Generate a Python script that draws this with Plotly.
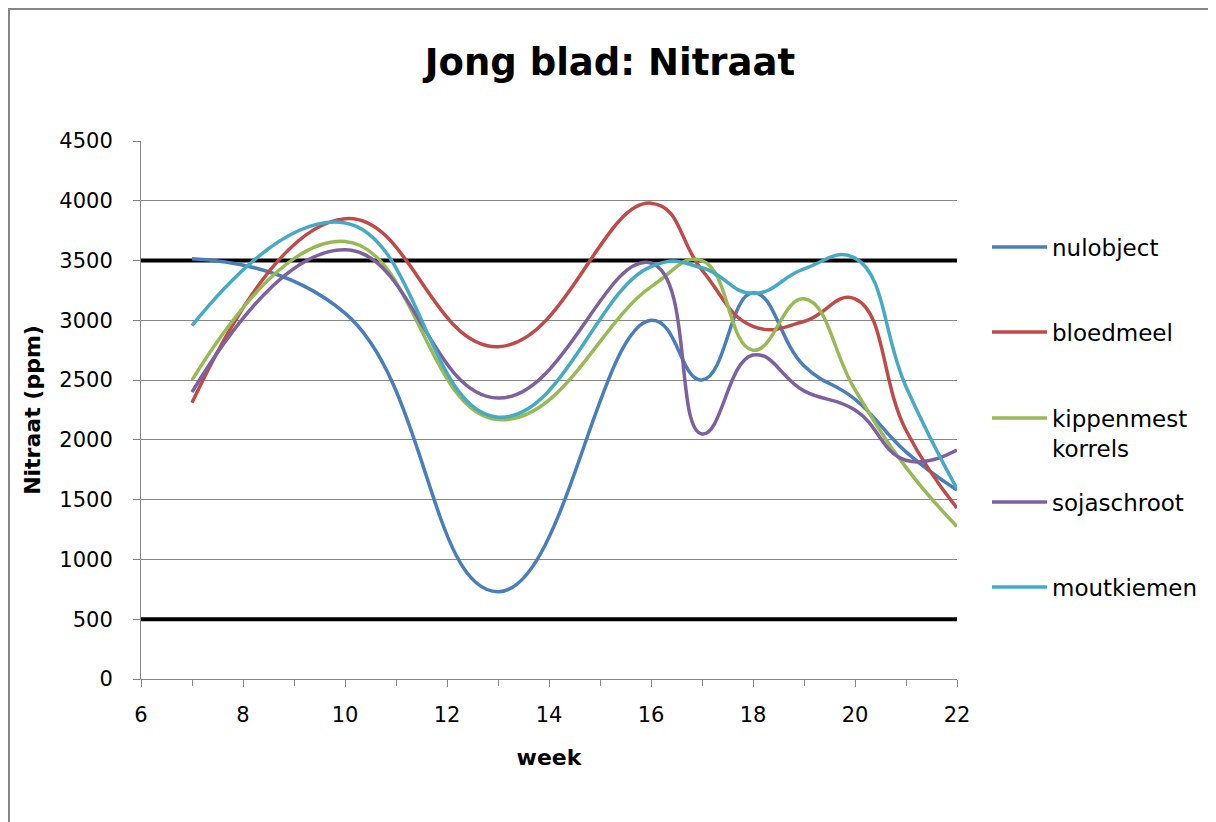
import plotly.graph_objects as go

weeks = [7, 10, 13, 16, 17, 18, 19, 20, 21, 22]
nulobject = [3515, 3060, 730, 3000, 2500, 3230, 2620, 2340, 1900, 1580]
bloedmeel = [2310, 3850, 2780, 3980, 3420, 2950, 2990, 3180, 2080, 1430]
kippenmest = [2500, 3660, 2170, 3280, 3500, 2750, 3180, 2420, 1770, 1275]
sojaschroot = [2400, 3590, 2350, 3480, 2050, 2710, 2410, 2250, 1830, 1915]
moutkiemen = [2955, 3815, 2190, 3450, 3440, 3225, 3430, 3520, 2445, 1590]

series_names = ["nulobject", "bloedmeel", "kippenmest<br>korrels", "sojaschroot", "moutkiemen"]
series_values = [nulobject, bloedmeel, kippenmest, sojaschroot, moutkiemen]
colors = ["#4A7EBB", "#BE4B48", "#98B954", "#7D60A0", "#46AAC5"]
legend_centers_px = [247, 332, 433, 502, 587]

limit_x = [6, 22]
upper_limit = [3500, 3500]
lower_limit = [500, 500]

FONT = "DejaVu Sans"
W, H = 1208, 814
L, T, PW, PH = 133, 133, 816, 538

fig = go.Figure()

for lim in (upper_limit, lower_limit):
    fig.add_trace(go.Scatter(x=limit_x, y=lim, mode="lines",
                             line=dict(color="black", width=4),
                             showlegend=False, hoverinfo="skip"))

legend_layout = {}
for i, (name, vals, col, cy) in enumerate(zip(series_names, series_values, colors, legend_centers_px)):
    lname = "legend" if i == 0 else f"legend{i + 1}"
    fig.add_trace(go.Scatter(x=weeks, y=vals, mode="lines", name=name,
                             legend=lname,
                             line=dict(color=col, width=3.5, shape="spline", smoothing=1.3)))
    legend_layout[lname] = dict(x=(987 - 141) / PW, xanchor="left",
                                y=(679 - cy) / PH, yanchor="middle", valign="top",
                                font=dict(family=FONT, size=23, color="black"),
                                itemwidth=55, bgcolor="rgba(0,0,0,0)")

fig.update_layout(
    width=W, height=H,
    margin=dict(l=L, r=W - L - PW, t=T, b=H - T - PH),
    paper_bgcolor="white", plot_bgcolor="white",
    font=dict(family=FONT, size=21, color="#000000"),
    title=dict(text="<b>Jong blad: Nitraat</b>", x=(610 - 8) / W, xanchor="center",
               y=1 - (62 - 8) / H, yanchor="middle", yref="container",
               font=dict(family=FONT, size=37, color="black")),
    showlegend=True,
    shapes=[dict(type="rect", xref="paper", yref="paper",
                 x0=(1 - L) / PW, x1=(1207 - L) / PW,
                 y0=(T + PH - 840) / PH, y1=(T + PH - 1) / PH,
                 line=dict(color="#868686", width=2), fillcolor="rgba(0,0,0,0)", layer="below")],
    **legend_layout,
)

fig.update_xaxes(range=[6, 22], tickmode="linear", tick0=6, dtick=2,
                 showgrid=False, zeroline=False,
                 showline=True, linecolor="#868686", linewidth=1,
                 ticks="outside", ticklen=7, tickcolor="#868686",
                 minor=dict(dtick=1, ticks="outside", ticklen=6, tickcolor="#868686", showgrid=False),
                 tickfont=dict(family=FONT, size=21),
                 ticklabelstandoff=10,
                 title=dict(text="<b>week</b>", font=dict(family=FONT, size=22), standoff=23))

fig.update_yaxes(range=[0, 4500], tickmode="linear", tick0=0, dtick=500,
                 showgrid=True, gridcolor="#868686", gridwidth=1, zeroline=False,
                 showline=True, linecolor="#868686", linewidth=1,
                 ticks="outside", ticklen=7, tickcolor="#868686",
                 tickfont=dict(family=FONT, size=21),
                 ticklabelstandoff=16,
                 title=dict(text="<b>Nitraat (ppm)</b>", font=dict(family=FONT, size=22), standoff=12))

fig.write_html("out.html")
